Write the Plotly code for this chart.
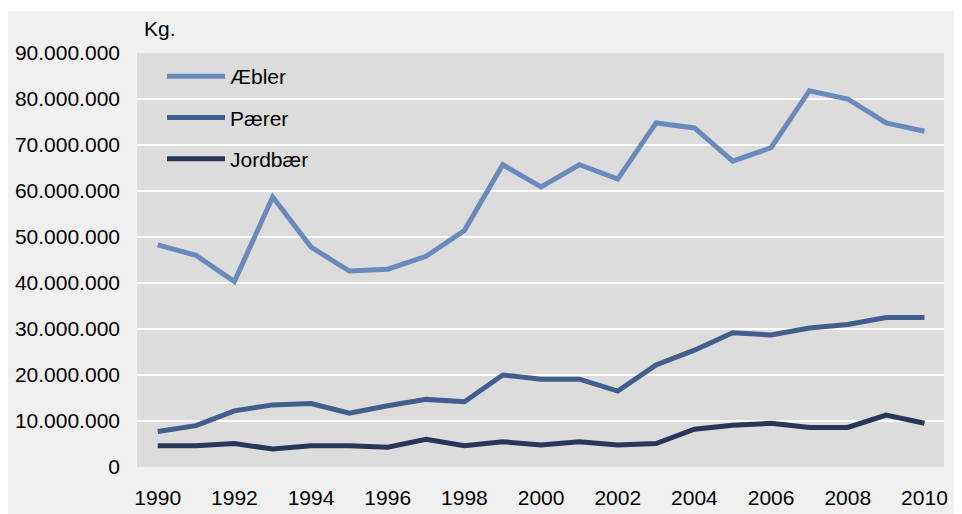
import plotly.graph_objects as go

years = list(range(1990, 2011))
aebler = [48.3, 46.0, 40.3, 58.7, 47.8, 42.6, 43.0, 45.8, 51.4, 65.7, 60.9,
          65.7, 62.6, 74.8, 73.7, 66.5, 69.4, 81.8, 80.0, 74.8, 73.0]
paerer = [7.7, 9.0, 12.2, 13.5, 13.8, 11.7, 13.3, 14.7, 14.2, 20.0, 19.1,
          19.1, 16.5, 22.2, 25.4, 29.2, 28.7, 30.2, 31.0, 32.5, 32.5]
jordbaer = [4.6, 4.6, 5.1, 3.9, 4.6, 4.6, 4.3, 6.0, 4.6, 5.5, 4.8,
            5.5, 4.8, 5.1, 8.2, 9.1, 9.5, 8.6, 8.6, 11.3, 9.5]
series_names = ["Æbler", "Pærer", "Jordbær"]
series_colors = ["#6a8abd", "#435d8e", "#283757"]
x_ticks = list(range(1990, 2011, 2))
y_ticks = list(range(0, 90_000_001, 10_000_000))

FONT = "Liberation Sans, Arial, sans-serif"
FS = 21

# figure geometry (the page body adds an 8px offset)
W, H = 954, 506
ML, MR, MT, MB = 129, 18, 45, 47
PW = W - ML - MR
PH = H - MT - MB


def px(page_x):
    return (page_x - 8 - ML) / PW


def py(page_y):
    return (H - MB - (page_y - 8)) / PH


fig = go.Figure()
for name, vals, col in zip(series_names, [aebler, paerer, jordbaer], series_colors):
    fig.add_trace(go.Scatter(
        x=years, y=[v * 1_000_000 for v in vals], mode="lines", name=name,
        legendgroup=name,
        line=dict(color=col, width=5), hoverinfo="x+y+name"))

shapes = [
    # top white strip of the outer frame
    dict(type="rect", xref="paper", yref="paper", layer="above",
         x0=-0.3, x1=1.2, y0=py(11), y1=1.3,
         fillcolor="#ffffff", line=dict(width=0)),
    # legend backdrop covering gridlines
    dict(type="rect", xref="paper", yref="paper", layer="between",
         x0=px(156), x1=px(322), y0=py(182), y1=py(56),
         fillcolor="#dcdcdc", line=dict(width=0)),
]

fig.update_layout(
    width=W, height=H,
    margin=dict(l=ML, r=MR, t=MT, b=MB, autoexpand=False),
    paper_bgcolor="#f0f0f0",
    plot_bgcolor="#dcdcdc",
    separators=",.",
    font=dict(family=FONT, size=FS, color="#000000"),
    showlegend=True,
    legend=dict(x=px(162), xanchor="left",
                y=py(56), yanchor="top",
                bgcolor="rgba(0,0,0,0)", borderwidth=0,
                tracegroupgap=11, itemwidth=58,
                font=dict(family=FONT, size=FS, color="#000000")),
    xaxis=dict(range=[1989.46, 2010.51], tickvals=x_ticks, showgrid=False,
               zeroline=False, showline=False, ticks="",
               ticklabelstandoff=16, tickfont=dict(size=FS)),
    yaxis=dict(range=[0, 90_000_000], tickvals=y_ticks, tickformat=",d",
               showgrid=True, gridcolor="#ffffff", gridwidth=1.5,
               zeroline=False, showline=False, ticks="",
               ticklabelstandoff=16, tickfont=dict(size=FS)),
    annotations=[dict(text="Kg.", xref="paper", yref="paper",
                      x=px(142), y=py(29),
                      xanchor="left", yanchor="middle", showarrow=False,
                      font=dict(family=FONT, size=FS, color="#000000"))],
    shapes=shapes,
)

fig.write_html("out.html")
